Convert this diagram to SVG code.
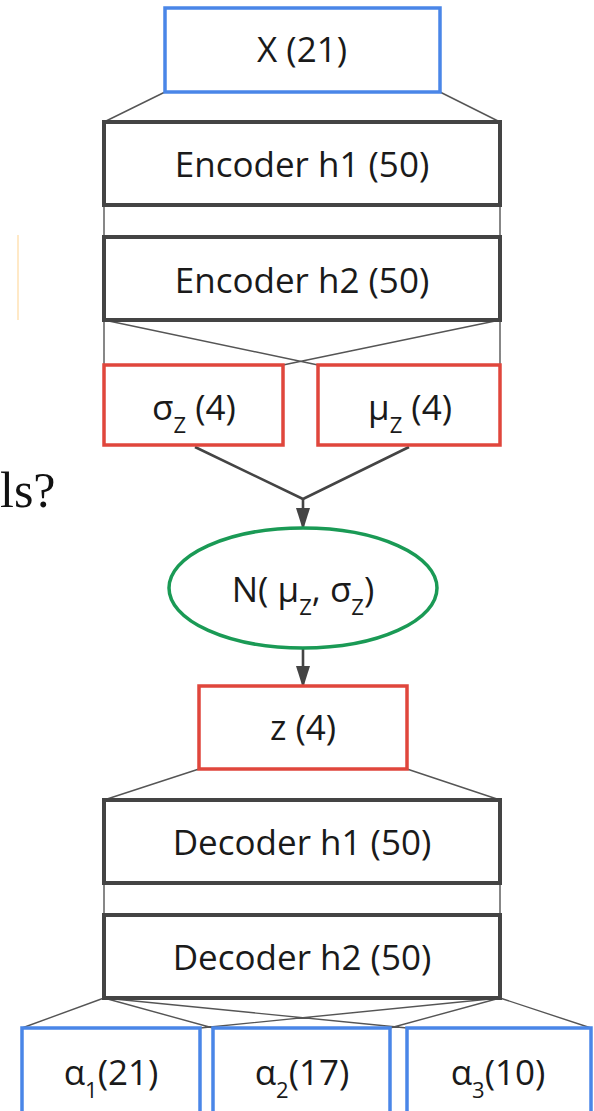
<svg xmlns="http://www.w3.org/2000/svg" width="594" height="1111" viewBox="0 0 594 1111">
<style>
.lbl{font-family:"Open Sans","Liberation Sans",sans-serif;font-size:35px;fill:#1a1a1a;text-anchor:middle}
.sub{font-size:22px}
.blue{fill:#fff;stroke:#4a86e8;stroke-width:3.5}
.red{fill:#fff;stroke:#e0463c;stroke-width:3.5}
.dark{fill:#fff;stroke:#444;stroke-width:4}
.green{fill:#fff;stroke:#1a9a55;stroke-width:3.5}
.thin{stroke:#555;stroke-width:1.4;fill:none}
.arr{stroke:#444;stroke-width:2.6;fill:none}
</style>
<defs>
<marker id="ah" markerWidth="22" markerHeight="14" refX="20" refY="7" orient="auto" markerUnits="userSpaceOnUse" viewBox="0 0 22 14">
<path d="M0,0 L22,7 L0,14 z" fill="#444"/>
</marker>
</defs>
<rect width="594" height="1111" fill="#fff"/>
<line x1="18" y1="235" x2="18" y2="320" stroke="#ffe2b5" stroke-width="1.5"/>
<text x="0" y="507" font-family="Liberation Serif,serif" font-size="50" fill="#111">ls?</text>
<g id="connectors">
<path class="thin" d="M165,92 L104,122 M440,92 L500,122"/>
<path class="thin" d="M104,205 L104,237 M500,205 L500,237"/>
<path class="thin" d="M104,320 L104,365 M104,320 L318,365 M500,320 L283,365 M500,320 L500,365"/>
<path class="arr" d="M195,447 L303,499 L409,447"/>
<line class="arr" x1="303" y1="499" x2="303" y2="528" marker-end="url(#ah)"/>
<line class="arr" x1="303" y1="648" x2="303" y2="686" marker-end="url(#ah)"/>
<path class="thin" d="M199,769 L104,800 M407,769 L500,800"/>
<path class="thin" d="M104,883 L104,915 M500,883 L500,915"/>
<path class="thin" d="M104,998 L22,1028 M500,998 L200,1028 M104,998 L213,1028 M500,998 L390,1028 M104,998 L407,1028 M500,998 L591,1028"/>
</g>
<g id="x">
<rect class="blue" x="165" y="8" width="275" height="84"/>
<text class="lbl" x="302" y="62">X (21)</text>
</g>
<g id="enc1">
<rect class="dark" x="104" y="122" width="396" height="83"/>
<text class="lbl" x="302" y="177">Encoder h1 (50)</text>
</g>
<g id="enc2">
<rect class="dark" x="104" y="237" width="396" height="83"/>
<text class="lbl" x="302" y="293">Encoder h2 (50)</text>
</g>
<g id="sigma">
<rect class="red" x="104" y="365" width="179" height="80"/>
<text class="lbl" x="194" y="420">σ<tspan class="sub" dy="13">Z</tspan><tspan dy="-13"> (4)</tspan></text>
</g>
<g id="mu">
<rect class="red" x="318" y="365" width="182" height="80"/>
<text class="lbl" x="410" y="420">μ<tspan class="sub" dy="13">Z</tspan><tspan dy="-13"> (4)</tspan></text>
</g>
<g id="normal">
<ellipse class="green" cx="303" cy="588" rx="134" ry="60"/>
<text class="lbl" x="303" y="602">N( μ<tspan class="sub" dy="13">Z</tspan><tspan dy="-13">, σ</tspan><tspan class="sub" dy="13">Z</tspan><tspan dy="-13">)</tspan></text>
</g>
<g id="z">
<rect class="red" x="199" y="686" width="208" height="83"/>
<text class="lbl" x="303" y="740">z (4)</text>
</g>
<g id="dec1">
<rect class="dark" x="104" y="800" width="396" height="83"/>
<text class="lbl" x="302" y="855">Decoder h1 (50)</text>
</g>
<g id="dec2">
<rect class="dark" x="104" y="915" width="396" height="83"/>
<text class="lbl" x="302" y="970">Decoder h2 (50)</text>
</g>
<g id="a1">
<rect class="blue" x="22" y="1028" width="178" height="100"/>
<text class="lbl" x="111" y="1085">α<tspan class="sub" dy="13">1</tspan><tspan dy="-13">(21)</tspan></text>
</g>
<g id="a2">
<rect class="blue" x="213" y="1028" width="177" height="100"/>
<text class="lbl" x="302" y="1085">α<tspan class="sub" dy="13">2</tspan><tspan dy="-13">(17)</tspan></text>
</g>
<g id="a3">
<rect class="blue" x="407" y="1028" width="184" height="100"/>
<text class="lbl" x="498" y="1085">α<tspan class="sub" dy="13">3</tspan><tspan dy="-13">(10)</tspan></text>
</g>
</svg>
